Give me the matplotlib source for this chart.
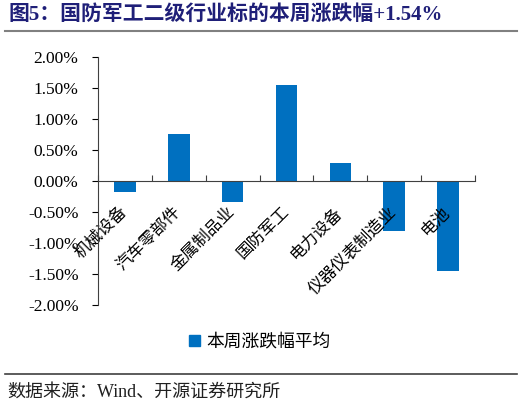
import matplotlib
matplotlib.use("Agg")
import matplotlib.pyplot as plt
from matplotlib.patches import Patch
from matplotlib.lines import Line2D
from matplotlib.ticker import FuncFormatter

plt.rcParams['font.family'] = ['Liberation Serif', 'Noto Sans CJK SC']

categories = ["机械设备", "汽车零部件", "金属制品业", "国防军工", "电力设备", "仪器仪表制造业", "电池"]
changes = [-0.18, 0.76, -0.34, 1.54, 0.29, -0.81, -1.46]
yticks = [-2.0, -1.5, -1.0, -0.5, 0.0, 0.5, 1.0, 1.5, 2.0]
title = "图5：国防军工二级行业标的本周涨跌幅+1.54%"
legend_label = "本周涨跌幅平均"
source = "数据来源：Wind、开源证券研究所"

bar_color = "#0070C0"

fig = plt.figure(figsize=(5.22, 4.05), dpi=100)
ax = fig.add_axes([98 / 522, 1 - 304.7 / 405, 377 / 522, 248 / 405])

x = list(range(len(categories)))
ax.bar(x, changes, width=0.4, color=bar_color)

ax.set_xlim(-0.5, len(categories) - 0.5)
ax.set_ylim(-2.0, 2.0)
ax.set_yticks(yticks)
ax.yaxis.set_major_formatter(FuncFormatter(lambda v, p: "%.2f%%" % v))
ax.tick_params(axis='y', direction='out', length=4, labelsize=12.5, pad=10)

ax.spines['top'].set_visible(False)
ax.spines['right'].set_visible(False)
ax.spines['bottom'].set_position(('data', 0))
ax.spines['left'].set_color('#404040')
ax.spines['bottom'].set_color('#404040')

ax.set_xticks([i - 0.5 for i in range(len(categories) + 1)])
ax.set_xticklabels([])
ax.tick_params(axis='x', which='major', direction='in', length=4, color='#404040')
ax.set_xticks(x, minor=True)
ax.set_xticklabels(categories, minor=True, rotation=45, ha='right', va='center',
                   rotation_mode='anchor', fontsize=12)
ax.tick_params(axis='x', which='minor', length=0, pad=21)

fig.text(8 / 522, 1 - 15 / 405, title, fontsize=15, fontweight='bold',
         color='#1F1F78', ha='left', va='center')
fig.add_artist(Line2D([5 / 522, 517 / 522], [1 - 31 / 405, 1 - 31 / 405],
                      color='#808080', linewidth=1.5))
fig.add_artist(Line2D([5 / 522, 517 / 522], [1 - 374 / 405, 1 - 374 / 405],
                      color='#404040', linewidth=1.2))
fig.text(7 / 522, 1 - 392 / 405, source, fontsize=13, ha='left', va='center', color='#202020')

fig.legend(handles=[Patch(color=bar_color, label=legend_label)], loc='center',
           bbox_to_anchor=(260 / 522, 1 - 342 / 405), frameon=False, fontsize=12.8,
           handlelength=0.6, handleheight=0.6, handletextpad=0.4)

fig.savefig("out.png", dpi=100)
